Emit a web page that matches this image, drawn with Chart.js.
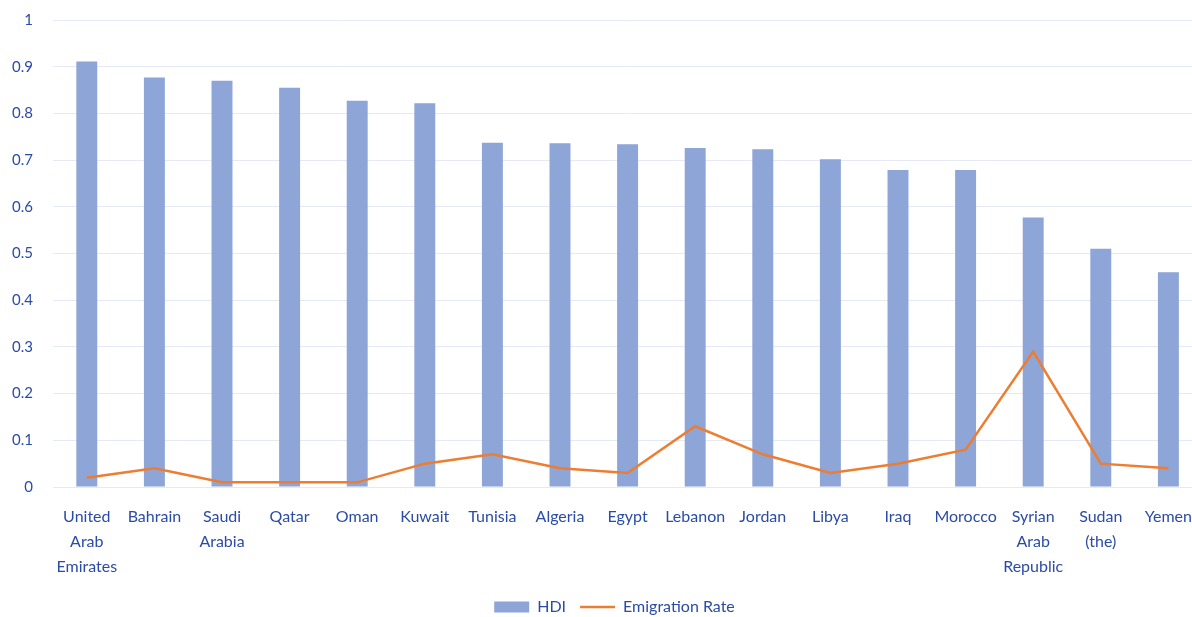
<!DOCTYPE html>
<html>
<head>
<meta charset="utf-8">
<title>HDI and Emigration Rate</title>
<script src="https://cdn.jsdelivr.net/npm/chart.js@4/dist/chart.umd.min.js"></script>
<style>
  html, body { margin: 0; padding: 0; background: #ffffff; overflow: hidden; }
  #wrap { position: relative; width: 1209px; height: 617px; }
</style>
</head>
<body>
<div id="wrap"><canvas id="chart"></canvas></div>
<script>
const countries = [
  ["United", "Arab", "Emirates"], "Bahrain", ["Saudi", "Arabia"], "Qatar", "Oman", "Kuwait",
  "Tunisia", "Algeria", "Egypt", "Lebanon", "Jordan", "Libya", "Iraq", "Morocco",
  ["Syrian", "Arab", "Republic"], ["Sudan", "(the)"], "Yemen"
];
const hdi = [0.911, 0.877, 0.870, 0.855, 0.827, 0.822, 0.737, 0.736, 0.734, 0.726,
             0.723, 0.702, 0.679, 0.679, 0.577, 0.510, 0.460];
const emigrationRate = [0.02, 0.04, 0.01, 0.01, 0.01, 0.05, 0.07, 0.04, 0.03, 0.13,
                        0.07, 0.03, 0.05, 0.08, 0.29, 0.05, 0.04];
const yTicks = [0, 0.1, 0.2, 0.3, 0.4, 0.5, 0.6, 0.7, 0.8, 0.9, 1];

const textColor = '#2B4CA6';
const gridColor = '#E4E9F5';
const fontFamily = 'Lato, "Open Sans", sans-serif';

// move the legend a little right and down, under the visible part of the plot
const legendShift = {
  id: 'legendShift',
  afterLayout(chart) {
    const lg = chart.legend;
    if (lg) {
      lg.left += 10; lg.right += 10;
      lg.top += 8; lg.bottom += 8;
    }
  }
};

new Chart(document.getElementById('chart'), {
  data: {
    labels: countries,
    datasets: [
      {
        type: 'line',
        label: 'Emigration Rate',
        data: emigrationRate,
        borderColor: '#ED7D31',
        backgroundColor: '#ED7D31',
        borderWidth: 2.5,
        pointRadius: 0,
        pointHoverRadius: 0,
        pointStyle: 'line',
        tension: 0,
        order: 1
      },
      {
        type: 'bar',
        label: 'HDI',
        data: hdi,
        backgroundColor: '#8EA5D8',
        borderWidth: 0,
        categoryPercentage: 1,
        barPercentage: 0.31,
        pointStyle: 'rect',
        order: 2
      }
    ]
  },
  options: {
    responsive: true,
    maintainAspectRatio: false,
    animation: false,
    layout: { padding: { top: 20, right: 0, bottom: 0, left: 0 } },
    scales: {
      x: {
        afterFit(scale) { scale.height -= 19; },
        grid: { display: false, drawTicks: false },
        border: { display: true, color: gridColor, width: 1 },
        ticks: {
          color: textColor,
          font: { family: fontFamily, size: 16, lineHeight: 1.5625 },
          padding: 17,
          autoSkip: false,
          maxRotation: 0,
          minRotation: 0
        }
      },
      y: {
        min: 0,
        max: 1,
        afterFit(scale) { scale.width = 53; scale.paddingTop = 0; scale.paddingBottom = 0; },
        afterBuildTicks(scale) { scale.ticks = yTicks.map(v => ({ value: v })); },
        grid: { color: gridColor, lineWidth: 1, drawTicks: false },
        border: { display: false },
        ticks: {
          color: textColor,
          font: { family: fontFamily, size: 15 },
          padding: 20,
          callback: v => (v === 0 || v === 1) ? String(v) : v.toFixed(1)
        }
      }
    },
    plugins: {
      tooltip: { enabled: false },
      legend: {
        position: 'bottom',
        reverse: true,
        labels: {
          color: textColor,
          font: { family: fontFamily, size: 16 },
          usePointStyle: true,
          pointStyleWidth: 35,
          boxHeight: 11,
          padding: 14
        }
      }
    }
  },
  plugins: [legendShift]
});
</script>
</body>
</html>
